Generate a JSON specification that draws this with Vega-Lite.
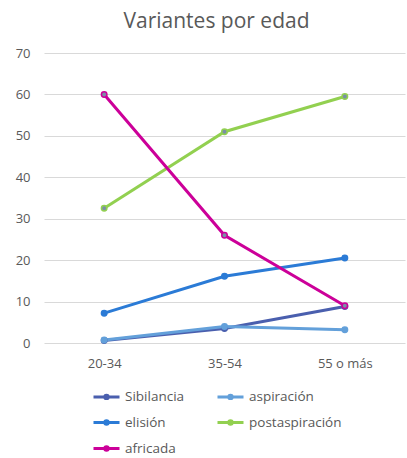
{
  "$schema": "https://vega.github.io/schema/vega-lite/v6.json",
  "width": 361,
  "height": 290,
  "autosize": {"type": "none"},
  "padding": {"left": 44, "top": 53, "right": 2, "bottom": 115},
  "background": "white",
  "title": {
    "text": "Variantes por edad",
    "anchor": "middle",
    "dx": -8,
    "offset": 15,
    "fontSize": 21,
    "font": "Open Sans",
    "fontWeight": "normal",
    "color": "#595959"
  },
  "config": {
    "view": {"stroke": null},
    "font": "Open Sans",
    "axis": {"labelFont": "Open Sans", "labelColor": "#595959", "labelFontSize": 13}
  },
  "data": {
    "values": [
      {"serie": "Sibilancia", "edad": "20-34", "valor": 0.6},
      {"serie": "Sibilancia", "edad": "35-54", "valor": 3.5},
      {"serie": "Sibilancia", "edad": "55 o más", "valor": 8.8},
      {"serie": "aspiración", "edad": "20-34", "valor": 0.7},
      {"serie": "aspiración", "edad": "35-54", "valor": 4.0},
      {"serie": "aspiración", "edad": "55 o más", "valor": 3.2},
      {"serie": "elisión", "edad": "20-34", "valor": 7.2},
      {"serie": "elisión", "edad": "35-54", "valor": 16.1},
      {"serie": "elisión", "edad": "55 o más", "valor": 20.5},
      {"serie": "postaspiración", "edad": "20-34", "valor": 32.5},
      {"serie": "postaspiración", "edad": "35-54", "valor": 51.0},
      {"serie": "postaspiración", "edad": "55 o más", "valor": 59.5},
      {"serie": "africada", "edad": "20-34", "valor": 60.0},
      {"serie": "africada", "edad": "35-54", "valor": 26.0},
      {"serie": "africada", "edad": "55 o más", "valor": 9.0}
    ]
  },
  "encoding": {
    "x": {
      "field": "edad", "type": "ordinal", "sort": null,
      "scale": {"type": "point", "padding": 0.5},
      "axis": {"title": null, "labelAngle": 0, "domain": false, "ticks": false, "labelPadding": 14, "grid": false}
    },
    "y": {
      "field": "valor", "type": "quantitative",
      "scale": {"domain": [0, 70], "nice": false},
      "axis": {"title": null, "values": [0,10,20,30,40,50,60,70], "domain": false, "ticks": false, "labelPadding": 14, "gridColor": "#D9D9D9", "gridWidth": 1}
    }
  },
  "layer": [
    {
      "mark": {"type": "line", "strokeWidth": 3, "strokeCap": "round"},
      "encoding": {
        "color": {
          "field": "serie", "type": "nominal",
          "scale": {
            "domain": ["Sibilancia", "aspiración", "elisión", "postaspiración", "africada"],
            "range": ["#4A5FAE", "#63A0DA", "#2B7BD6", "#92D050", "#CC0099"]
          },
          "legend": {
            "title": null,
            "orient": "none",
            "direction": "horizontal",
            "legendX": 48,
            "legendY": 329,
            "columns": 2,
            "columnPadding": 26,
            "rowPadding": 3,
            "labelFontSize": 13.5,
            "labelFont": "Open Sans",
            "labelColor": "#595959",
            "labelOffset": 4,
            "symbolSize": 676,
            "symbolStrokeWidth": 3,
            "symbolType": "M-1,0L1,0M-0.13,0A0.13,0.13,0,1,1,0.13,0A0.13,0.13,0,1,1,-0.13,0Z",
            "encode": {
              "symbols": {
                "update": {
                  "fill": {"signal": "indexof(['postaspiración','africada'], datum.value) >= 0 ? '#7A8FA6' : scale('color', datum.value)"},
                  "opacity": {"value": 1}
                }
              }
            }
          }
        }
      }
    },
    {
      "mark": {"type": "point", "filled": false, "size": 30, "strokeWidth": 1.5, "opacity": 1},
      "encoding": {
        "stroke": {
          "field": "serie", "type": "nominal", "legend": null,
          "scale": {
            "domain": ["Sibilancia", "aspiración", "elisión", "postaspiración", "africada"],
            "range": ["#4A5FAE", "#63A0DA", "#2B7BD6", "#92D050", "#CC0099"]
          }
        },
        "fill": {
          "field": "serie", "type": "nominal", "legend": null,
          "scale": {
            "domain": ["Sibilancia", "aspiración", "elisión", "postaspiración", "africada"],
            "range": ["#4A5FAE", "#63A0DA", "#2B7BD6", "#7A8FA6", "#7A8FA6"]
          }
        }
      }
    }
  ]
}
